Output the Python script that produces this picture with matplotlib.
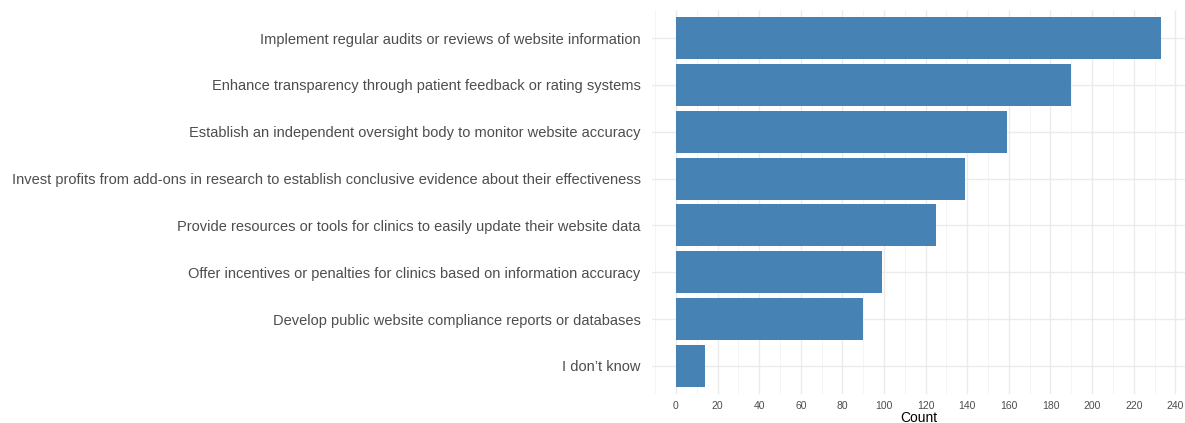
import matplotlib.pyplot as plt
import numpy as np

categories = [
    "Implement regular audits or reviews of website information",
    "Enhance transparency through patient feedback or rating systems",
    "Establish an independent oversight body to monitor website accuracy",
    "Invest profits from add-ons in research to establish conclusive evidence about their effectiveness",
    "Provide resources or tools for clinics to easily update their website data",
    "Offer incentives or penalties for clinics based on information accuracy",
    "Develop public website compliance reports or databases",
    "I don\u2019t know",
]
counts = [233, 190, 159, 139, 125, 99, 90, 14]
x_ticks = list(range(0, 241, 20))

plt.rcParams["font.family"] = ["Liberation Sans", "DejaVu Sans"]

fig = plt.figure(figsize=(11.85, 4.23), dpi=100)
ax = fig.add_axes([651.7 / 1185, 1 - 394 / 423, (1185 - 651.7) / 1185, (394 - 10) / 423])

y = np.arange(len(categories))[::-1]
ax.barh(y, counts, height=0.9, color="#4682B4", zorder=2)

ax.set_xlim(-11.65, 244.65)
ax.set_ylim(-0.6, len(categories) - 1 + 0.6)
ax.set_xticks(x_ticks)
ax.set_xticks(np.arange(-10, 241, 20), minor=True)
ax.set_yticks(y)
ax.set_yticklabels(categories)

ax.grid(True, which="major", color="#EBEBEB", linewidth=1.0, zorder=0)
ax.grid(True, which="minor", axis="x", color="#F2F2F2", linewidth=0.6, zorder=0)
for s in ax.spines.values():
    s.set_visible(False)
ax.tick_params(axis="both", which="both", length=0)
ax.tick_params(axis="y", labelsize=10.5, labelcolor="#4D4D4D", pad=8)
ax.tick_params(axis="x", labelsize=7.5, labelcolor="#4D4D4D", pad=5)
ax.set_xlabel("Count", fontsize=10, color="black", labelpad=0)

fig.savefig("out.png", dpi=100)
